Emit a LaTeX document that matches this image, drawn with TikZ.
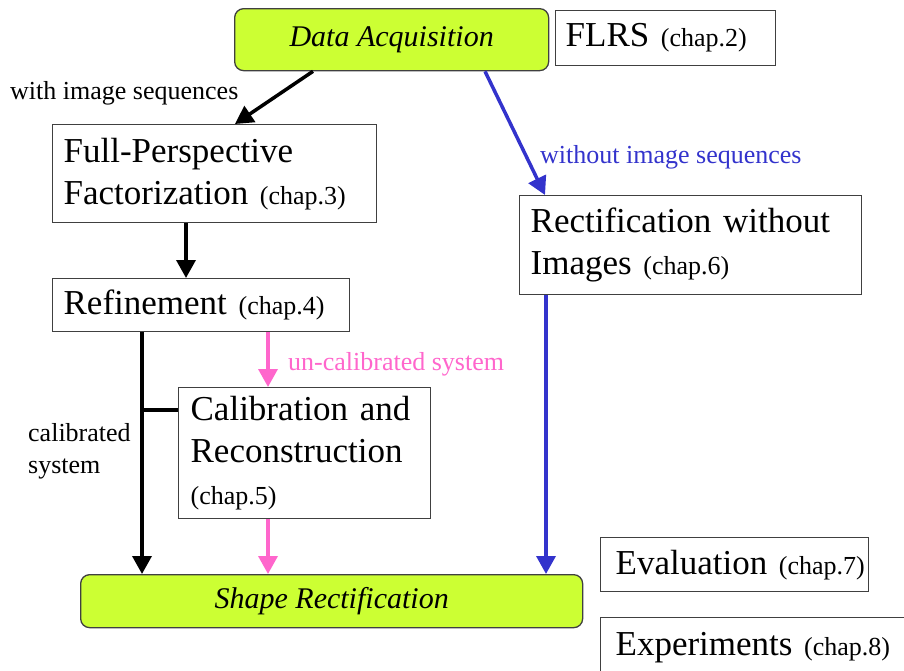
\documentclass[tikz,border=0pt]{standalone}
\usepackage{fontspec}
\setmainfont{Liberation Serif}
\usetikzlibrary{arrows.meta}
\definecolor{limefill}{RGB}{204,255,51}
\definecolor{boxline}{RGB}{64,64,64}
\definecolor{flowblue}{RGB}{51,51,204}
\definecolor{flowpink}{RGB}{255,102,204}
\newcommand{\chp}[1]{{\fontsize{26}{42}\selectfont~(chap.#1)}}
\newcommand{\chq}[1]{{\fontsize{26}{42}\selectfont(chap.#1)}}
\tikzset{
  box/.style={draw=boxline, line width=1.3pt, fill=white, anchor=north west, align=left,
    inner xsep=11pt, inner ysep=0pt, font=\fontsize{35}{42}\selectfont},
  rbox/.style={draw=boxline, line width=1.3pt, fill=limefill, rounded corners=9pt,
    anchor=north west, inner sep=0pt, font=\fontsize{30}{36}\selectfont\itshape},
  lbl/.style={anchor=west, inner sep=0pt, font=\fontsize{26}{32}\selectfont, align=left},
  flow/.style={line width=3.5pt, -{Triangle[length=18pt,width=19pt]}},
  plain/.style={line width=3.5pt}
}
\begin{document}
\begin{tikzpicture}[x=1pt,y=-1pt]
\useasboundingbox (0,0) rectangle (904,670);
% nodes
\node[rbox, minimum width=314pt, minimum height=62pt] (da) at (234,8) {Data Acquisition};
\node[box, inner xsep=10pt, text width=200pt, minimum height=55pt] (flrs) at (555,10) {FLRS\chp{2}};
\node[box, text width=302pt, minimum height=98pt] (fp) at (52,124) {Full-Perspective\\Factorization\chp{3}};
\node[box, text width=275pt, minimum height=53pt] (ref) at (52,278) {Refinement\chp{4}};
\node[box, text width=320pt, minimum height=99pt] (rw) at (519,195) {Rectification without\\Images\chp{6}};
\node[box, inner xsep=12pt, text width=228pt, minimum height=131pt] (cal) at (178,387) {Calibration and\\Reconstruction\\\chq{5}};
\node[rbox, minimum width=502pt, minimum height=53pt] (sr) at (80,574) {Shape Rectification};
\node[box, inner xsep=15pt, text width=238pt, minimum height=54pt] (ev) at (600,537) {Evaluation\chp{7}};
\node[box, inner xsep=15pt, text width=280pt, minimum height=60pt] (ex) at (600,617) {Experiments\chp{8}};
% labels
\node[lbl] (l1) at (10,93) {with image sequences};
\node[lbl, text=flowblue] (l2) at (540,157) {without image sequences};
\node[lbl, text=flowpink] (l3) at (288,364) {un-calibrated system};
\node[lbl] (l4) at (28,451) {calibrated\\system};
% connectors
\coordinate (j) at (142,410);
\draw[flow] (da.south -| 313,0) -- (fp.north -| 235,0);
\draw[flow, flowblue] (da.south -| 485,0) -- (rw.north -| 545,0);
\draw[flow] (fp.south -| 186,0) -- (ref.north -| 186,0);
\draw[flow, flowpink] (ref.south -| 268,0) -- (cal.north -| 268,0);
\draw[flow] (ref.south -| 142,0) -- (sr.north -| 142,0);
\draw[plain] (j) -- (cal.west |- j);
\draw[flow, flowpink] (cal.south -| 268,0) -- (sr.north -| 268,0);
\draw[flow, flowblue] (rw.south -| 546,0) -- (sr.north -| 546,0);
\end{tikzpicture}
\end{document}
